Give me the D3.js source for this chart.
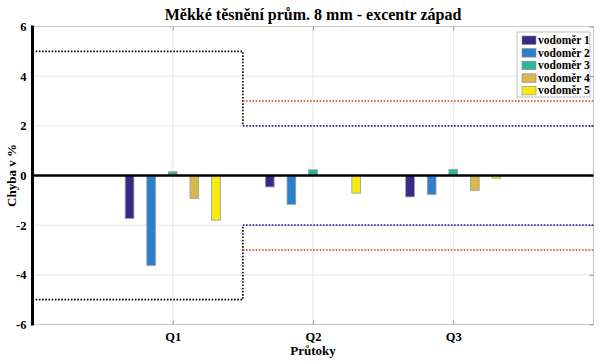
<!DOCTYPE html>
<html><head><meta charset="utf-8">
<script src="https://cdn.jsdelivr.net/npm/d3@7"></script>
<style>body{margin:0;background:#fff}svg{display:block}text{font-family:"Liberation Serif","Times New Roman",serif;font-weight:bold}</style>
</head><body><svg id="c" width="600" height="364"></svg>
<script>
const categories = ["Q1", "Q2", "Q3"];
const seriesNames = ["vodoměr 1", "vodoměr 2", "vodoměr 3", "vodoměr 4", "vodoměr 5"];
const vodomer1 = [-1.73, -0.46, -0.86];
const vodomer2 = [-3.62, -1.16, -0.76];
const vodomer3 = [0.15, 0.23, 0.25];
const vodomer4 = [-0.92, 0.0, -0.60];
const vodomer5 = [-1.80, -0.71, -0.11];
const yTicks = [-6, -4, -2, 0, 2, 4, 6];
// limit lines: [x, y] in data units
const limitBlackUpper = [[0, 5], [1.5, 5], [1.5, 2]];
const limitBlackLower = [[0, -5], [1.5, -5], [1.5, -2]];
const limitBlueUpper = [[1.5, 2], [4, 2]];
const limitBlueLower = [[1.5, -2], [4, -2]];
const limitRedUpper = [[1.5, 3], [4, 3]];
const limitRedLower = [[1.5, -3], [4, -3]];

const seriesValues = [vodomer1, vodomer2, vodomer3, vodomer4, vodomer5];
const colors = ["#3a2a87", "#2a80cc", "#2db59c", "#d8b94c", "#f6eb10"];

const svg = d3.select("#c");
const L = 32.5, R = 593.5, T = 26.5, B = 324.5;
const x = d3.scaleLinear().domain([0, 4]).range([L, R]);
const y = d3.scaleLinear().domain([-6, 6]).range([B, T]);
const sub = d3.scalePoint().domain(seriesNames).range([-0.308, 0.308]);
const barW = 0.062;

// grid
const g = svg.append("g");
g.selectAll(".hg").data(yTicks).join("line")
  .attr("x1", L).attr("x2", R).attr("y1", d => y(d)).attr("y2", d => y(d))
  .attr("stroke", "#e6e6e6").attr("stroke-width", 1);
g.selectAll(".vg").data(categories).join("line")
  .attr("x1", (d, i) => x(i + 1)).attr("x2", (d, i) => x(i + 1)).attr("y1", T).attr("y2", B)
  .attr("stroke", "#e6e6e6").attr("stroke-width", 1);

// box (top/right/bottom)
svg.append("path").attr("d", `M${L},${T}H${R}V${B}H${L}`).attr("fill", "none")
  .attr("stroke", "#c8c8c8").attr("stroke-width", 1.2);

// x axis
const xAxis = d3.axisBottom(x).tickValues([1, 2, 3]).tickFormat(d => categories[d - 1]).tickSizeInner(-4).tickSizeOuter(0).tickPadding(8);
const xa = svg.append("g").attr("transform", `translate(0,${B})`).call(xAxis);
xa.select(".domain").remove();
xa.selectAll("line").attr("stroke", "#999");
xa.selectAll("text").attr("font-size", 12.5).attr("fill", "#000").attr("font-family", "Liberation Serif").attr("font-weight", "bold");
// top ticks
const xt = svg.append("g").attr("transform", `translate(0,${T})`).call(d3.axisTop(x).tickValues([1, 2, 3]).tickSizeInner(-4).tickSizeOuter(0).tickFormat(""));
xt.select(".domain").remove(); xt.selectAll("line").attr("stroke", "#999");
// right ticks
const yr = svg.append("g").attr("transform", `translate(${R},0)`).call(d3.axisRight(y).tickValues(yTicks).tickSizeInner(-4).tickSizeOuter(0).tickFormat(""));
yr.select(".domain").remove(); yr.selectAll("line").attr("stroke", "#999");

// bars
seriesNames.forEach((s, si) => {
  svg.append("g").selectAll("rect").data(seriesValues[si]).join("rect")
    .attr("x", (d, i) => x(i + 1 + sub(s) - barW / 2))
    .attr("width", x(barW) - x(0))
    .attr("y", d => y(Math.max(0, d)))
    .attr("height", d => Math.abs(y(d) - y(0)))
    .attr("fill", colors[si]).attr("stroke", "#9a9a9a").attr("stroke-width", 0.8);
});

// limit lines
const line = d3.line().x(d => x(d[0])).y(d => y(d[1]));
[[limitBlackUpper, "#000"], [limitBlackLower, "#000"], [limitBlueUpper, "#2a2a9a"], [limitBlueLower, "#2a2a9a"], [limitRedUpper, "#d8401c"], [limitRedLower, "#d8401c"]]
  .forEach(([d, c]) => svg.append("path").attr("d", line(d)).attr("fill", "none")
    .attr("stroke", c).attr("stroke-width", 1.6).attr("stroke-dasharray", "1.6,1.6"));

// zero line
svg.append("line").attr("x1", L).attr("x2", R).attr("y1", y(0)).attr("y2", y(0)).attr("stroke", "#000").attr("stroke-width", 2.5);

// y axis
const ya = svg.append("g").attr("transform", `translate(${L},0)`).call(d3.axisLeft(y).tickValues(yTicks).tickFormat(d => String(d)).tickSizeInner(0).tickSizeOuter(0).tickPadding(6));
ya.select(".domain").remove();
ya.selectAll("text").attr("font-size", 12.5).attr("fill", "#000").attr("font-family", "Liberation Serif").attr("font-weight", "bold");
svg.append("line").attr("x1", L).attr("x2", L).attr("y1", T - 1).attr("y2", B + 1).attr("stroke", "#000").attr("stroke-width", 3);

// title & labels
svg.append("text").attr("x", 313).attr("y", 20).attr("text-anchor", "middle").attr("font-size", 16).text("Měkké těsnění prům. 8 mm - excentr západ");
svg.append("text").attr("x", 313).attr("y", 355).attr("text-anchor", "middle").attr("font-size", 13).text("Průtoky");
svg.append("text").attr("transform", `translate(16,${y(0)}) rotate(-90)`).attr("text-anchor", "middle").attr("font-size", 13).text("Chyba v %");

// legend
const lg = svg.append("g").attr("transform", "translate(517,32)");
lg.append("rect").attr("width", 73).attr("height", 65).attr("fill", "#fff").attr("stroke", "#b0b0b0").attr("stroke-width", 0.8);
seriesNames.forEach((s, i) => {
  lg.append("rect").attr("x", 5).attr("y", 4 + i * 12.6).attr("width", 14).attr("height", 8.5).attr("fill", colors[i]).attr("stroke", "#888").attr("stroke-width", 0.6);
  lg.append("text").attr("x", 21).attr("y", 12 + i * 12.6).attr("font-size", 11.5).text(s);
});
</script></body></html>
